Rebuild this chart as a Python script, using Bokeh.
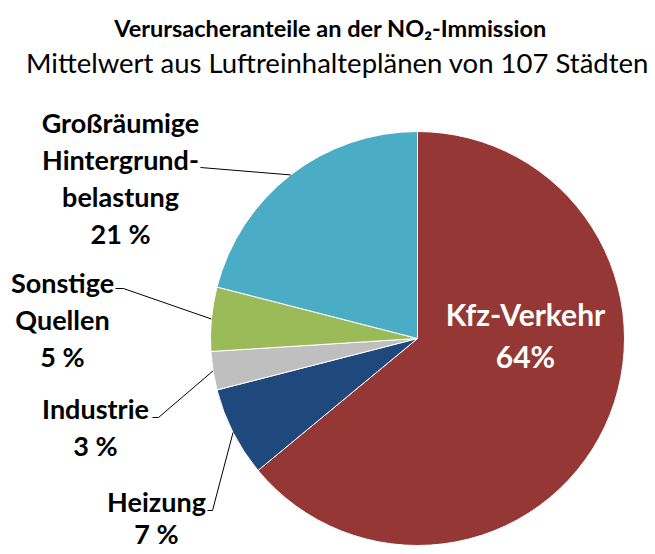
import math
from bokeh.plotting import figure
from bokeh.models import Range1d
from bokeh.core.properties import value
from bokeh.embed import file_html
from bokeh.resources import INLINE

# ---- data ----
categories = ["Kfz-Verkehr", "Heizung", "Industrie", "Sonstige Quellen", "Großräumige Hintergrundbelastung"]
shares = [64, 7, 3, 5, 21]
colors = ["#953735", "#1F497D", "#BFBFBF", "#9BBB59", "#4BACC6"]
label_lines = [
    ["Kfz-Verkehr", "64%"],
    ["Heizung", "7 %"],
    ["Industrie", "3 %"],
    ["Sonstige", "Quellen", "5 %"],
    ["Großräumige", "Hintergrund-", "belastung", "21 %"],
]
title = "Verursacheranteile an der NO₂-Immission"
subtitle = "Mittelwert aus Luftreinhalteplänen von 107 Städten"

FONT = "Lato"
W, H = 655, 554

def Y(py):
    return 554 - py

p = figure(width=W, height=H, output_backend="svg", toolbar_location=None,
           x_range=Range1d(0, 655), y_range=Range1d(0, 554), min_border=0)
p.axis.visible = False
p.grid.visible = False
p.outline_line_color = None
p.background_fill_color = "white"
p.border_fill_color = "white"

cx, cy, r = 417, Y(338), 207
total = sum(shares)
starts, ends, mids = [], [], []
cum = 0
for s in shares:
    a0 = math.pi / 2 - 2 * math.pi * cum / total
    cum += s
    a1 = math.pi / 2 - 2 * math.pi * cum / total
    starts.append(a0)
    ends.append(a1)
    mids.append((a0 + a1) / 2)

p.wedge(x=[cx] * len(shares), y=[cy] * len(shares), radius=r,
        start_angle=starts, end_angle=ends, direction="clock",
        fill_color=colors, line_color="white", line_width=1)

# title
p.text(x=[330], y=[Y(27)], text=[title], text_font=value(FONT), text_font_style="bold",
       text_font_size="23.5px", text_align="center", text_baseline="middle", text_color="black")
p.text(x=[337], y=[Y(62)], text=[subtitle], text_font=value(FONT),
       text_font_size="27.5px", text_align="center", text_baseline="middle", text_color="black")

# outside labels: anchor positions (center x, first line center y, line spacing)
anchors = {1: (156, 501, 32), 2: (95, 408, 37), 3: (62, 282, 37), 4: (120, 122, 37)}
for i, (ax, ay, ls) in anchors.items():
    lines = label_lines[i]
    p.text(x=[ax] * len(lines), y=[Y(ay + k * ls) for k in range(len(lines))], text=lines,
           text_font=value(FONT), text_font_style="bold", text_font_size="27px",
           text_align="center", text_baseline="middle", text_color="black")

# Kfz label inside
p.text(x=[525, 525], y=[Y(313), Y(355)], text=label_lines[0],
       text_font=value(FONT), text_font_style="bold", text_font_size="30px",
       text_align="center", text_baseline="middle", text_color="white")

# leader lines: label end point -> slice edge at mid angle
starts_pts = {1: [(207, 510), (212, 510)], 2: [(152, 417), (158, 417)],
              3: [(115, 288), (123, 288)], 4: [(200, 167)]}
xs, ys = [], []
for i, pts in starts_pts.items():
    ex = cx + r * math.cos(mids[i])
    ey = cy + r * math.sin(mids[i])
    xs.append([pt[0] for pt in pts] + [ex])
    ys.append([Y(pt[1]) for pt in pts] + [ey])
p.multi_line(xs=xs, ys=ys, line_color="black", line_width=1)

open("out.html", "w").write(file_html(p, INLINE))
